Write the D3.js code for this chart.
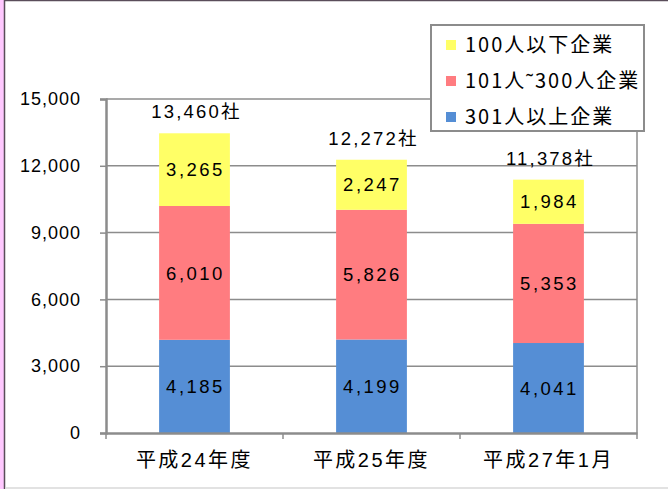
<!DOCTYPE html>
<html>
<head>
<meta charset="utf-8">
<script src="https://cdn.jsdelivr.net/npm/d3@7"></script>
<style>
  html, body { margin: 0; padding: 0; background: #fff; }
  svg { display: block; }
  text { font-family: "Liberation Sans", "Noto Sans CJK JP", sans-serif; fill: #000; }
  .jp { font-family: "Noto Sans CJK JP", sans-serif; }
</style>
</head>
<body>
<svg id="chart" width="668" height="489"></svg>
<script>
// Companies by size, stacked per period
const periods = ["平成24年度", "平成25年度", "平成27年1月"];
const large = [4185, 4199, 4041];   // 301人以上企業
const mid   = [6010, 5826, 5353];   // 101人~300人企業
const small = [3265, 2247, 1984];   // 100人以下企業
const totals = [13460, 12272, 11378];
const yTicks = [0, 3000, 6000, 9000, 12000, 15000];

const colors = ["#558ED5", "#FF7C80", "#FFFF66"];
const legendOrder = [2, 1, 0];
const legendLabels = ["301人以上企業", "101人˜300人企業", "100人以下企業"];

const svg = d3.select("#chart");
const W = 668, H = 489;

// page frame
svg.append("rect").attr("x", 0).attr("y", 0).attr("width", 4).attr("height", H).attr("fill", "#FFC8FF");
svg.append("line").attr("x1", 4.5).attr("x2", 4.5).attr("y1", 0).attr("y2", H).attr("stroke", "#5a4d5a").attr("stroke-width", 1.5);
svg.append("line").attr("x1", 4).attr("x2", W).attr("y1", 0.5).attr("y2", 0.5).attr("stroke", "#5a4d5a").attr("stroke-width", 1.5);
svg.append("line").attr("x1", 5).attr("x2", W).attr("y1", 488).attr("y2", 488).attr("stroke", "#d9d9d9").attr("stroke-width", 1.5);

const plot = { left: 106, right: 637, top: 99, bottom: 433 };

const x = d3.scaleBand().domain(periods).range([plot.left, plot.right]).paddingInner(0.6).paddingOuter(0.3);
const y = d3.scaleLinear().domain([0, 15000]).range([plot.bottom, plot.top]);

// gridlines
svg.append("g").selectAll("line").data(yTicks.slice(1)).join("line")
  .attr("x1", plot.left).attr("x2", plot.right)
  .attr("y1", d => y(d)).attr("y2", d => y(d))
  .attr("stroke", "#8c8c8c").attr("stroke-width", 1.5);
// right border of plot area
svg.append("line").attr("x1", plot.right).attr("x2", plot.right)
  .attr("y1", plot.top).attr("y2", plot.bottom)
  .attr("stroke", "#8c8c8c").attr("stroke-width", 1.5);

// stacked bars
const rows = periods.map((p, i) => ({ period: p, s0: large[i], s1: mid[i], s2: small[i] }));
const stack = d3.stack().keys(["s0", "s1", "s2"])(rows);

const layers = svg.append("g").selectAll("g").data(stack).join("g")
  .attr("fill", (d, i) => colors[i]);
layers.selectAll("rect").data(d => d).join("rect")
  .attr("x", d => x(d.data.period))
  .attr("width", x.bandwidth())
  .attr("y", d => y(d[1]))
  .attr("height", d => y(d[0]) - y(d[1]));

// segment value labels
const fmt = d3.format(",");
layers.selectAll("text").data(d => d).join("text")
  .attr("x", d => x(d.data.period) + x.bandwidth() / 2 + 1)
  .attr("y", d => (y(d[0]) + y(d[1])) / 2)
  .attr("dy", "0.36em")
  .attr("text-anchor", "middle")
  .attr("font-size", 18.5)
  .attr("letter-spacing", 2.5)
  .text(d => fmt(d[1] - d[0]));

// totals above bars
svg.append("g").selectAll("text").data(periods).join("text")
  .attr("x", p => x(p) + x.bandwidth() / 2 + 2)
  .attr("y", (p, i) => y(totals[i]) - 15)
  .attr("text-anchor", "middle")
  .attr("font-size", 18.5)
  .attr("letter-spacing", 2.2)
  .text((p, i) => fmt(totals[i]) + "社");

// y axis
const yAxis = svg.append("g").attr("transform", `translate(${plot.left},0)`)
  .call(d3.axisLeft(y).tickValues(yTicks).tickFormat(fmt).tickSize(6).tickPadding(19));
yAxis.select(".domain").attr("stroke", "#8c8c8c").attr("stroke-width", 2.5);
yAxis.selectAll(".tick line").attr("stroke", "#8c8c8c").attr("stroke-width", 1.5);
yAxis.selectAll(".tick text").attr("font-size", 18).attr("letter-spacing", 1)
  .attr("font-family", "Liberation Sans").attr("fill", "#000");

// x axis
const xAxis = svg.append("g").attr("transform", `translate(0,${plot.bottom})`)
  .call(d3.axisBottom(x).tickSize(0).tickPadding(20));
xAxis.select(".domain").attr("stroke", "#8c8c8c").attr("stroke-width", 2.5);
xAxis.selectAll(".tick text").attr("font-size", 20).attr("letter-spacing", 2.5)
  .attr("font-family", "Noto Sans CJK JP").attr("fill", "#000");
// category separator ticks
const edges = [plot.left, ...periods.map(p => x(p) + x.bandwidth() + x.step() * x.paddingInner() / 2)];
edges[edges.length - 1] = plot.right;
svg.append("g").selectAll("line").data(edges).join("line")
  .attr("x1", d => d).attr("x2", d => d)
  .attr("y1", plot.bottom).attr("y2", plot.bottom + 6)
  .attr("stroke", "#8c8c8c").attr("stroke-width", 1.5);

// legend
const lg = svg.append("g").attr("transform", "translate(431,25)");
lg.append("rect").attr("width", 213).attr("height", 106)
  .attr("fill", "#fff").attr("stroke", "#8c8c8c").attr("stroke-width", 2);
const items = lg.selectAll("g").data(legendOrder).join("g")
  .attr("transform", (d, i) => `translate(0,${20 + i * 36})`);
items.append("rect").attr("x", 15).attr("y", -5).attr("width", 10).attr("height", 10)
  .attr("fill", d => colors[d]);
items.append("text").attr("class", "jp").attr("x", 34).attr("dy", "0.36em")
  .attr("font-size", 20).attr("letter-spacing", 2)
  .text(d => legendLabels[d]);
</script>
</body>
</html>
